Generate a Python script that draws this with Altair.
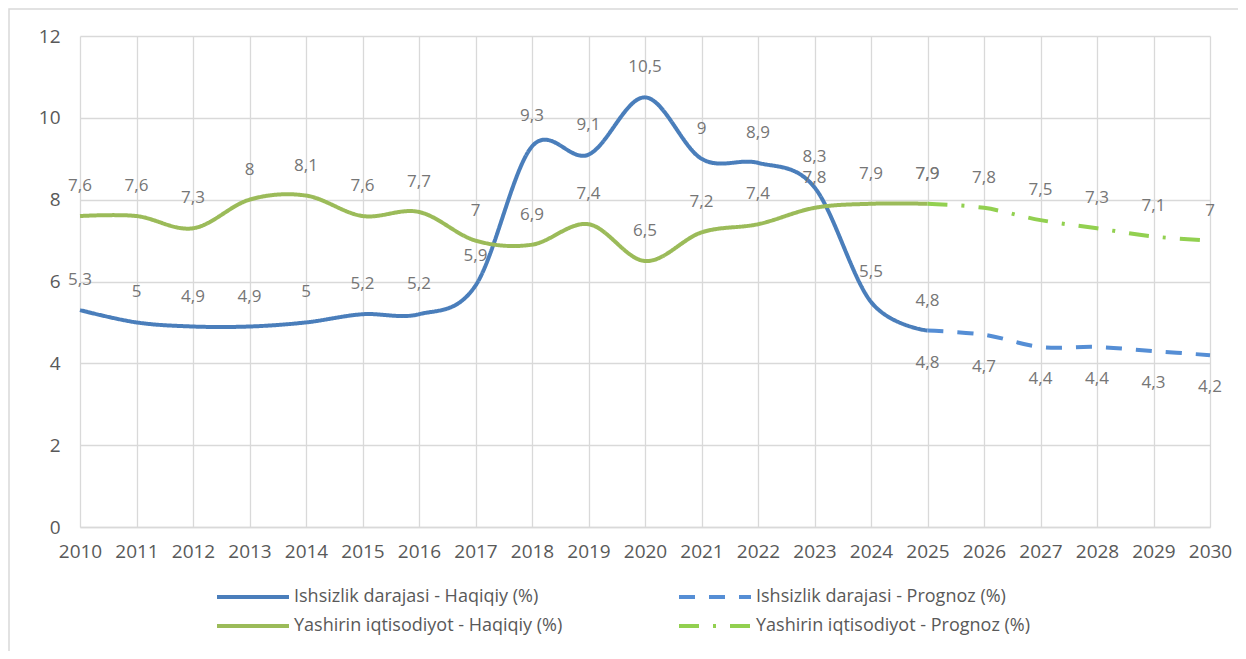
import altair as alt
import pandas as pd

years_actual = list(range(2010, 2026))
years_forecast = list(range(2025, 2031))
unemp_actual = [5.3, 5.0, 4.9, 4.9, 5.0, 5.2, 5.2, 5.9, 9.3, 9.1, 10.5, 9.0, 8.9, 8.3, 5.5, 4.8]
unemp_forecast = [4.8, 4.7, 4.4, 4.4, 4.3, 4.2]
shadow_actual = [7.6, 7.6, 7.3, 8.0, 8.1, 7.6, 7.7, 7.0, 6.9, 7.4, 6.5, 7.2, 7.4, 7.8, 7.9, 7.9]
shadow_forecast = [7.9, 7.8, 7.5, 7.3, 7.1, 7.0]

series_names = [
    "Ishsizlik darajasi - Haqiqiy (%)",
    "Ishsizlik darajasi - Prognoz (%)",
    "Yashirin iqtisodiyot - Haqiqiy (%)",
    "Yashirin iqtisodiyot - Prognoz (%)",
]
series_colors = ["#4a7ebb", "#558ed5", "#9bbb59", "#92d050"]
series_dashes = [[1, 0], [16, 14], [1, 0], [20, 14, 3, 14]]
label_pos = ["above", "below", "above", "above"]
x_ticks = list(range(2010, 2031))
y_ticks = [0, 2, 4, 6, 8, 10, 12]

rows = []
for name, yrs, vals, pos in zip(
    series_names,
    [years_actual, years_forecast, years_actual, years_forecast],
    [unemp_actual, unemp_forecast, shadow_actual, shadow_forecast],
    label_pos,
):
    for yr, v in zip(yrs, vals):
        rows.append({"year": yr, "value": v, "series": name, "pos": pos,
                     "label": f"{v:g}".replace(".", ",")})
df = pd.DataFrame(rows)

FONT = "Open Sans"

x_enc = alt.X("year:Q",
              scale=alt.Scale(domain=[2010, 2030], nice=False, zero=False),
              axis=alt.Axis(values=x_ticks, format="d", title=None, labelPadding=15,
                            labelFontSize=19, labelColor="#595959", labelFont=FONT,
                            ticks=False, domainColor="#d9d9d9", domainWidth=1.5,
                            gridColor="#d9d9d9", gridWidth=1.3, labelFlush=False))
y_enc = alt.Y("value:Q",
              scale=alt.Scale(domain=[0, 12], nice=False),
              axis=alt.Axis(values=y_ticks, title=None, labelPadding=20,
                            labelFontSize=19, labelColor="#595959", labelFont=FONT,
                            ticks=False, domain=False,
                            gridColor="#d9d9d9", gridWidth=1.3))

base = alt.Chart(df).encode(x=x_enc, y=y_enc)

leg = alt.Legend(title=None, orient="none", legendX=153, legendY=541, columns=2,
                 direction="horizontal",
                 symbolType="M-2,0H2", symbolSize=1296, symbolStrokeWidth=4,
                 labelFontSize=18, labelFont=FONT, labelColor="#595959",
                 columnPadding=108, rowPadding=-4, labelOffset=21, labelLimit=400)

lines = base.mark_line(interpolate="cardinal", strokeWidth=4).encode(
    color=alt.Color("series:N", scale=alt.Scale(domain=series_names, range=series_colors), legend=leg),
    strokeDash=alt.StrokeDash("series:N", scale=alt.Scale(domain=series_names, range=series_dashes), legend=leg),
    detail="series:N",
)

text_above = base.mark_text(dy=-30, fontSize=17, font=FONT, color="#767676", baseline="middle").encode(
    text="label:N").transform_filter(alt.datum.pos == "above")
text_below = base.mark_text(dy=32, fontSize=17, font=FONT, color="#767676", baseline="middle").encode(
    text="label:N").transform_filter(alt.datum.pos == "below")

frame = alt.Chart(pd.DataFrame({"f": [0]})).mark_rect(
    fillOpacity=0, stroke="#d9d9d9", strokeWidth=1.5).encode(
    x=alt.value(-71), x2=alt.value(1400), y=alt.value(-27), y2=alt.value(900))

chart = alt.layer(frame, lines, text_above, text_below).properties(
    width=1130, height=491,
    autosize=alt.AutoSizeParams(type="none"),
    padding={"left": 72, "top": 28, "right": 28, "bottom": 124},
).configure_view(stroke=None)

chart.save("out.html", embed_options={"renderer": "svg", "actions": False})
